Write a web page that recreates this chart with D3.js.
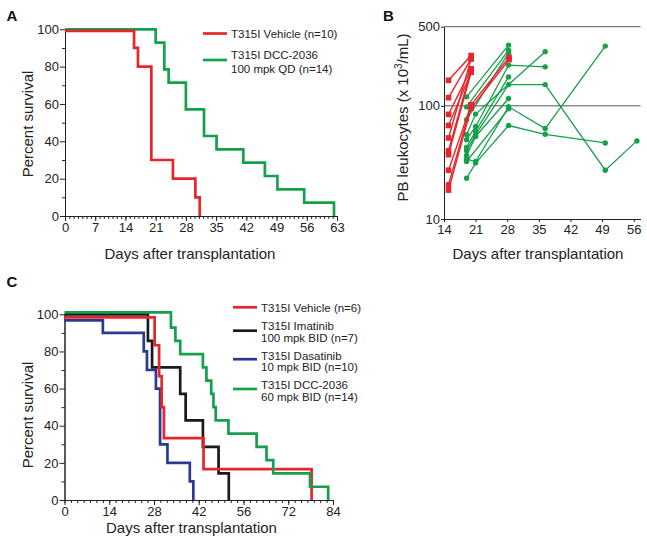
<!DOCTYPE html>
<html><head><meta charset="utf-8">
<script src="https://cdn.jsdelivr.net/npm/d3@7"></script>
<style>
body{margin:0;background:#fff}
svg{font-family:"Liberation Sans",Arial,Helvetica,sans-serif;display:block}
</style>
</head><body>
<svg id="chart" width="647" height="545"></svg>
<script>
// ---------------- DATA ----------------
// Panel A: survival (days of death), no censoring
const aTicks = [0, 7, 14, 21, 28, 35, 42, 49, 56, 63];
const aVehicleDeaths = [16, 16.9, 20, 20, 20, 20, 20, 25, 30.2, 31.2];
const aDccDeaths = [21, 23, 23, 24, 28, 28, 32.2, 32.2, 35.1, 41.3, 46.3, 49.2, 55.4, 62.3];
const aLegend = ["T315I Vehicle (n=10)", "T315I DCC-2036", "100 mpk QD (n=14)"];

// Panel B: PB leukocytes (x10^3/mL) per mouse
const bTicksX = [14, 21, 28, 35, 42, 49, 56];
const bTicksY = [10, 100, 500];
const bVehicleDays = [15, 20, 28.4];
const bVehicleMice = [
  [168, 278, null],
  [118, 260, null],
  [84, 212, null],
  [67, 198, null],
  [52, 260, null],
  [40, 212, null],
  [37, 198, null],
  [27, 102, null],
  [20, 102, 268],
  [18, 95, 256]
];
const bDccDays = [19, 21, 28.3, 36.4, 49.7, 56.7];
const bDccMice = [
  [120, null, 344, null, null, null],
  [97.8, null, 310, null, null, null],
  [75.5, null, 294, null, null, null],
  [55.6, 84.5, null, 301, null, null],
  [50.2, 65.7, 229, 221, null, null],
  [42.9, 59.4, 180, null, null, null],
  [40.1, 55.6, 154, 154, 27, 49],
  [36.4, 53.6, 116, null, null, null],
  [33.8, 32.2, 98, 63, 337, null],
  [32.2, null, 94, null, null, null],
  [22.9, 31.2, 67, 56, 47, null]
];

// Panel C: survival (days of death)
const cTicks = [0, 14, 28, 42, 56, 70, 84];
const cTickLabels = ["0", "14", "28", "42", "56", "72", "84"];
const cVehicleDeaths = [28.2, 29.6, 30.4, 31.1, 43.5, 77.3];
const cImatinibDeaths = [26.1, 27.4, 36.2, 37.9, 43.3, 48.2, 51.4];
const cDasatinibDeaths = [12, 24.8, 25.8, 28.6, 29.9, 29.9, 29.9, 32.2, 39.2, 40.3];
const cDccDeaths = [33.3, 34.7, 36.2, 43.3, 44.4, 45.9, 46.6, 47.3, 51.3, 60.1, 63.2, 65.3, 76.8, 82.5];
const cLegend = [
  ["T315I Vehicle (n=6)"],
  ["T315I Imatinib", "100 mpk BID (n=7)"],
  ["T315I Dasatinib", "10 mpk BID (n=10)"],
  ["T315I DCC-2036", "60 mpk BID (n=14)"]
];
const yTicks = [0, 20, 40, 60, 80, 100];

// ---------------- STYLE ----------------
const RED = "#e5262c", GREEN = "#15a04c", BLACK = "#1a1a1a", BLUE = "#2a3a92";
const TXT = "#222";
const svg = d3.select("#chart");

function kmSteps(deaths) {
  const groups = d3.rollups(deaths, v => v.length, d => d).sort((a, b) => a[0] - b[0]);
  let n = deaths.length, s = 100;
  const out = [];
  for (const [t, d] of groups) { s = s * (1 - d / n); n -= d; out.push([t, s]); }
  return out;
}
function drawKM(g, x, y, deaths, color, topOffset) {
  const steps = kmSteps(deaths);
  let prev = y(100) + topOffset;
  const pts = [[x(0), prev]];
  for (const [t, s] of steps) { pts.push([x(t), prev]); prev = y(s); pts.push([x(t), prev]); }
  g.append("path").attr("d", d3.line()(pts)).attr("fill", "none")
    .attr("stroke", color).attr("stroke-width", 2.7).attr("stroke-linejoin", "miter");
}
function styleAxis(sel, fs) {
  sel.selectAll("path,line").attr("stroke", "#222").attr("stroke-width", 1);
  sel.selectAll("text").attr("fill", TXT).attr("font-size", fs).attr("font-family", "Liberation Sans, Arial, sans-serif");
}
function survivalAxes(g, x, y, majorX, minorX, labelsX, h) {
  const ax = g.append("g").attr("transform", `translate(0,${h})`)
    .call(d3.axisBottom(x).tickValues(minorX).tickSize(3).tickSizeOuter(0).tickFormat(""));
  styleAxis(ax, 13);
  const ax2 = g.append("g").attr("transform", `translate(0,${h})`)
    .call(d3.axisBottom(x).tickValues(majorX).tickSize(5).tickPadding(2).tickSizeOuter(0)
      .tickFormat((d, i) => labelsX ? labelsX[i] : d));
  ax2.select(".domain").remove();
  styleAxis(ax2, 13);
  const ay = g.append("g").attr("transform", `translate(${x.range()[0]},0)`)
    .call(d3.axisLeft(y).tickValues(d3.range(10, 100, 20)).tickSize(3).tickSizeOuter(0).tickFormat(""));
  styleAxis(ay, 13);
  const ay2 = g.append("g").attr("transform", `translate(${x.range()[0]},0)`)
    .call(d3.axisLeft(y).tickValues(yTicks).tickSize(5).tickPadding(1).tickSizeOuter(0));
  styleAxis(ay2, 13);
}

// ---------------- PANEL A ----------------
{
  const g = svg.append("g");
  const x = d3.scaleLinear([0, 63], [65, 337]);
  const y = d3.scaleLinear([0, 100], [216, 29.3]);
  survivalAxes(g, x, y, aTicks, d3.range(0, 64, 1), null, 216);
  drawKM(g, x, y, aDccDeaths, GREEN, 0);
  drawKM(g, x, y, aVehicleDeaths, RED, 1.5);
  const L = g.append("g").attr("font-size", 11.5).attr("fill", TXT);
  L.append("line").attr("x1", 203).attr("x2", 227).attr("y1", 33.5).attr("y2", 33.5).attr("stroke", RED).attr("stroke-width", 2.7);
  L.append("text").attr("x", 231).attr("y", 38).text(aLegend[0]);
  L.append("line").attr("x1", 203).attr("x2", 227).attr("y1", 60).attr("y2", 60).attr("stroke", GREEN).attr("stroke-width", 2.7);
  L.append("text").attr("x", 231).attr("y", 59.3).text(aLegend[1]);
  L.append("text").attr("x", 231).attr("y", 73).text(aLegend[2]);
  g.append("text").attr("x", 190).attr("y", 258.5).attr("text-anchor", "middle").attr("font-size", 15).attr("fill", TXT).text("Days after transplantation");
  g.append("text").attr("transform", "translate(33,124) rotate(-90)").attr("text-anchor", "middle").attr("font-size", 15).attr("fill", TXT).text("Percent survival");
  g.append("text").attr("x", 6.5).attr("y", 20.7).attr("font-size", 15).attr("font-weight", "bold").attr("fill", "#111").text("A");
}

// ---------------- PANEL B ----------------
{
  const g = svg.append("g");
  const x = d3.scaleLinear([14, 57.5], [444, 640.5]);
  const y = d3.scaleLog([10, 500], [219, 26.7]);
  g.selectAll("line.grid").data([100, 500]).join("line").attr("class", "grid")
    .attr("x1", x(14)).attr("x2", 640.5).attr("y1", d => y(d)).attr("y2", d => y(d))
    .attr("stroke", "#555").attr("stroke-width", 1);
  const ax = g.append("g").attr("transform", `translate(0,219)`)
    .call(d3.axisBottom(x).tickValues(bTicksX).tickSize(3).tickSizeOuter(0));
  styleAxis(ax, 13);
  const ay = g.append("g").attr("transform", `translate(${x(14)},0)`)
    .call(d3.axisLeft(y).tickValues(bTicksY).tickSize(3).tickPadding(1).tickSizeOuter(0).tickFormat(d3.format("d")));
  styleAxis(ay, 13);

  const line = d3.line().x(d => x(d[0])).y(d => y(d[1]));
  const pts = (days, vals) => days.map((d, i) => [d, vals[i]]).filter(p => p[1] != null);
  bDccMice.forEach(m => {
    g.append("path").attr("d", line(pts(bDccDays, m))).attr("fill", "none").attr("stroke", GREEN).attr("stroke-width", 1.3);
  });
  bDccMice.forEach(m => {
    g.selectAll(null).data(pts(bDccDays, m)).join("circle")
      .attr("cx", d => x(d[0])).attr("cy", d => y(d[1])).attr("r", 2.7).attr("fill", GREEN);
  });
  bVehicleMice.forEach(m => {
    g.append("path").attr("d", line(pts(bVehicleDays, m))).attr("fill", "none").attr("stroke", RED).attr("stroke-width", 1.4);
  });
  bVehicleMice.forEach(m => {
    g.selectAll(null).data(pts(bVehicleDays, m)).join("rect")
      .attr("x", d => x(d[0]) - 2.8).attr("y", d => y(d[1]) - 2.8).attr("width", 5.6).attr("height", 5.6).attr("fill", RED);
  });
  g.append("text").attr("x", 538).attr("y", 258.5).attr("text-anchor", "middle").attr("font-size", 15).attr("fill", TXT).text("Days after transplantation");
  const yt = g.append("text").attr("transform", "translate(408,117.5) rotate(-90)").attr("text-anchor", "middle").attr("font-size", 15).attr("fill", TXT);
  yt.append("tspan").text("PB leukocytes (x 10");
  yt.append("tspan").attr("font-size", 10).attr("dy", -6).text("3");
  yt.append("tspan").attr("dy", 6).text("/mL)");
  g.append("text").attr("x", 383).attr("y", 20.7).attr("font-size", 15).attr("font-weight", "bold").attr("fill", "#111").text("B");
}

// ---------------- PANEL C ----------------
{
  const g = svg.append("g");
  const x = d3.scaleLinear([0, 84], [64.5, 333]);
  const y = d3.scaleLinear([0, 100], [500, 314.3]);
  survivalAxes(g, x, y, cTicks, d3.range(0, 85, 2), cTickLabels, 500);
  drawKM(g, x, y, cDasatinibDeaths, BLUE, 6);
  drawKM(g, x, y, cImatinibDeaths, BLACK, 0);
  drawKM(g, x, y, cVehicleDeaths, RED, 3);
  drawKM(g, x, y, cDccDeaths, GREEN, -2);
  const colors = [RED, BLACK, BLUE, GREEN];
  const lineY = [307.3, 330.7, 359.2, 389];
  const textY = [[311.5], [329.5, 341.6], [359.5, 371], [388.5, 400.7]];
  const L = g.append("g").attr("font-size", 11.5).attr("fill", TXT);
  cLegend.forEach((lines, i) => {
    L.append("line").attr("x1", 233).attr("x2", 257).attr("y1", lineY[i]).attr("y2", lineY[i]).attr("stroke", colors[i]).attr("stroke-width", 2.7);
    lines.forEach((t, j) => L.append("text").attr("x", 261).attr("y", textY[i][j]).text(t));
  });
  g.append("text").attr("x", 191.5).attr("y", 533).attr("text-anchor", "middle").attr("font-size", 15).attr("fill", TXT).text("Days after transplantation");
  g.append("text").attr("transform", "translate(33,415) rotate(-90)").attr("text-anchor", "middle").attr("font-size", 15).attr("fill", TXT).text("Percent survival");
  g.append("text").attr("x", 6.5).attr("y", 286.7).attr("font-size", 15).attr("font-weight", "bold").attr("fill", "#111").text("C");
}
</script>
</body></html>
